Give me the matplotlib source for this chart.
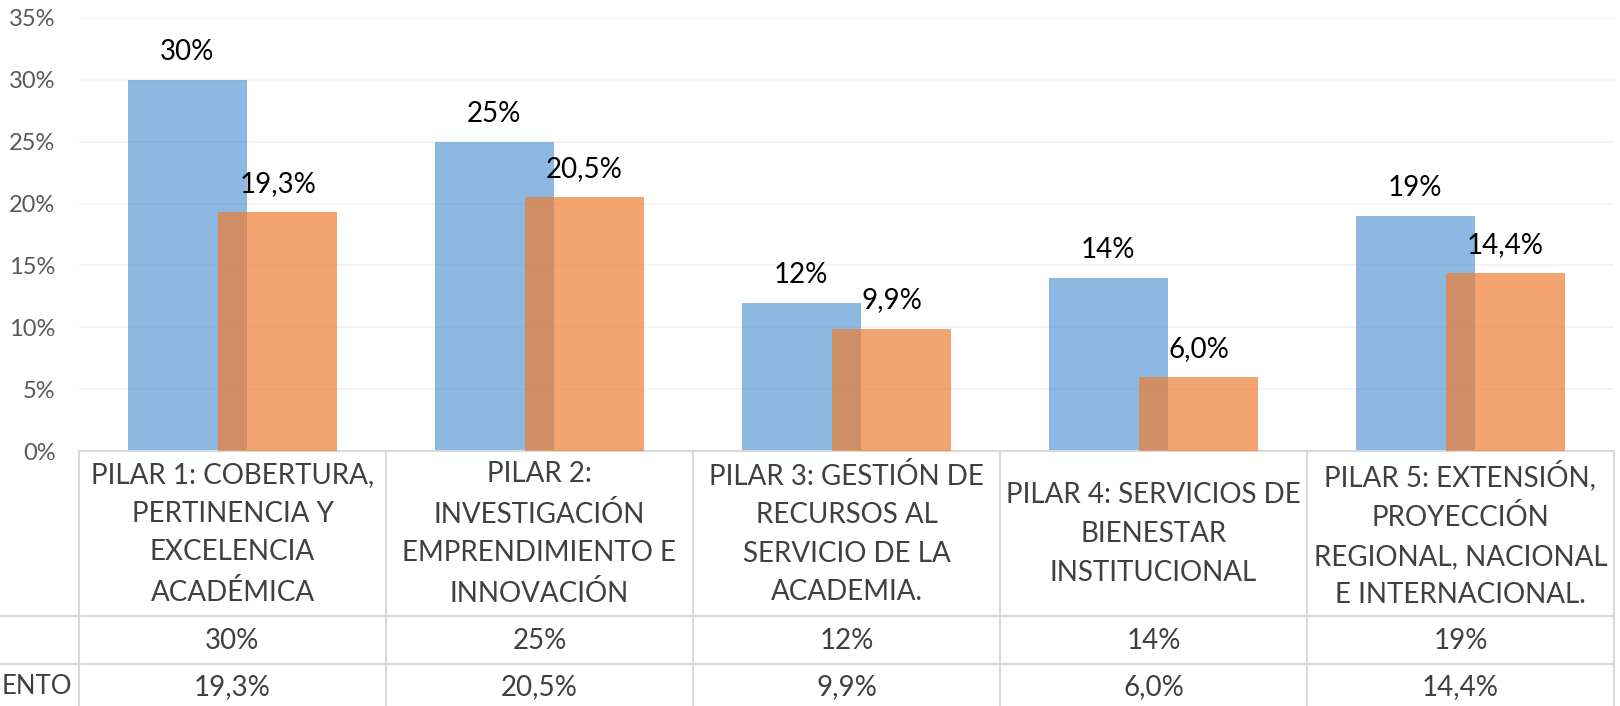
import matplotlib
matplotlib.use("Agg")
import matplotlib.pyplot as plt
from matplotlib.transforms import blended_transform_factory
from matplotlib.lines import Line2D

plt.rcParams['font.family'] = ['Lato', 'DejaVu Sans']

categories = [
    "PILAR 1: COBERTURA,\nPERTINENCIA Y\nEXCELENCIA\nACADÉMICA",
    "PILAR 2:\nINVESTIGACIÓN\nEMPRENDIMIENTO E\nINNOVACIÓN",
    "PILAR 3: GESTIÓN DE\nRECURSOS AL\nSERVICIO DE LA\nACADEMIA.",
    "PILAR 4: SERVICIOS DE\nBIENESTAR\nINSTITUCIONAL",
    "PILAR 5: EXTENSIÓN,\nPROYECCIÓN\nREGIONAL, NACIONAL\nE INTERNACIONAL.",
]
meta = [30, 25, 12, 14, 19]
cumplimiento = [19.3, 20.5, 9.9, 6.0, 14.4]
row_labels = ["", "ENTO"]
yticks = [0, 5, 10, 15, 20, 25, 30, 35]


def fmt_meta(v):
    return f"{v:.0f}%"


def fmt_cum(v):
    return f"{v:.1f}%".replace(".", ",")


W, H = 1620, 706
fig = plt.figure(figsize=(W / 100, H / 100), dpi=100)
ax_left, ax_right, ax_top, ax_bot = 79, 1614, 18, 451
ax = fig.add_axes([ax_left / W, 1 - ax_bot / H, (ax_right - ax_left) / W, (ax_bot - ax_top) / H])

x = list(range(len(categories)))
bw = 0.39
off = 0.147
ax.bar([i - off for i in x], meta, width=bw, color="#5B9BD5", alpha=0.7, zorder=2)
ax.bar([i + off for i in x], cumplimiento, width=bw, color="#ED7D31", alpha=0.7, zorder=3)

for i, v in enumerate(meta):
    ax.annotate(fmt_meta(v), (i - off, v), xytext=(0, 14.4), textcoords="offset points",
                ha="center", va="baseline", fontsize=20, color="#000000", zorder=5)
for i, v in enumerate(cumplimiento):
    ax.annotate(fmt_cum(v), (i + off, v), xytext=(0, 14.4), textcoords="offset points",
                ha="center", va="baseline", fontsize=20, color="#000000", zorder=5)

ax.set_xlim(-0.5, len(categories) - 0.5)
ax.set_ylim(0, 35)
ax.set_yticks(yticks)
ax.set_yticklabels([f"{t}%" for t in yticks], fontsize=17, color="#595959")
ax.tick_params(axis="y", length=0, pad=17)
ax.set_xticks([])
ax.grid(axis="y", color="#F2F2F2", linewidth=1.2, zorder=0)
ax.set_axisbelow(True)
for s in ["top", "right", "left"]:
    ax.spines[s].set_visible(False)
ax.spines["bottom"].set_color("#D9D9D9")
ax.spines["bottom"].set_linewidth(1.5)

# data table
tr = blended_transform_factory(ax.transData, fig.transFigure)
def fy(px):
    return 1 - px / H

line_col = "#D9D9D9"
for i in range(len(categories) + 1):
    fig.add_artist(Line2D([i - 0.5, i - 0.5], [fy(451), fy(706)], transform=tr,
                          color=line_col, linewidth=1.5, clip_on=False))
for yp in [616, 664]:
    fig.add_artist(Line2D([0, ax_right / W], [fy(yp), fy(yp)], transform=fig.transFigure,
                          color=line_col, linewidth=1.5, clip_on=False))

txt_col = "#404040"
for i, c in enumerate(categories):
    fig.text(i, fy(534), c, transform=tr, ha="center", va="center",
             fontsize=20, color=txt_col, linespacing=1.6, multialignment="center")
for i, v in enumerate(meta):
    fig.text(i, fy(641), fmt_meta(v), transform=tr, ha="center", va="center",
             fontsize=20, color=txt_col)
for i, v in enumerate(cumplimiento):
    fig.text(i, fy(687), fmt_cum(v), transform=tr, ha="center", va="center",
             fontsize=20, color=txt_col)
fig.text(2 / W, fy(641), row_labels[0], ha="left", va="center", fontsize=18.5, color=txt_col)
fig.text(2 / W, fy(687), row_labels[1], ha="left", va="center", fontsize=18.5, color=txt_col)

fig.savefig("out.png", dpi=100, facecolor="white")
